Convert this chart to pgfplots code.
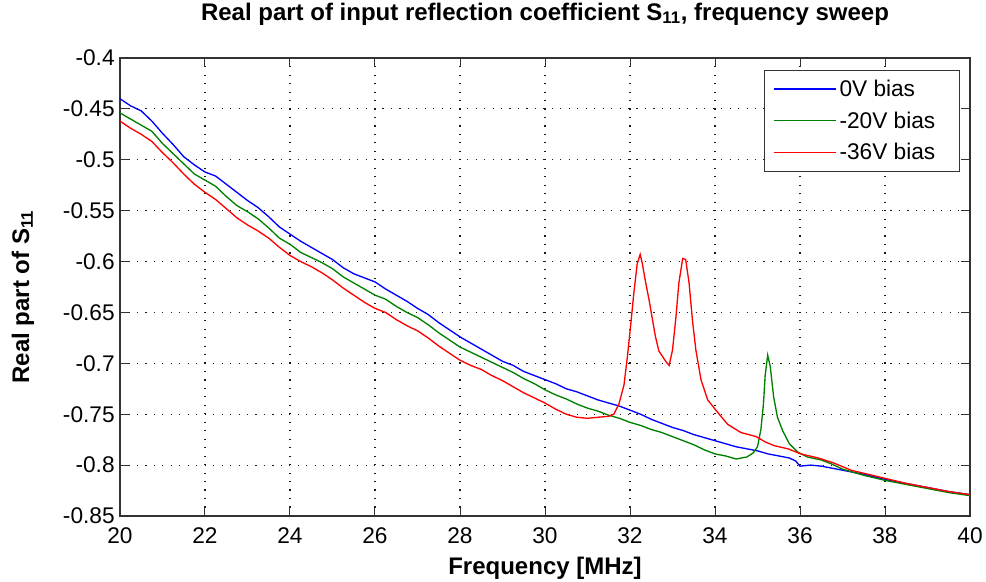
\documentclass[border=0pt]{standalone}
\usepackage{pgfplots}
\pgfplotsset{compat=1.18}
\usepackage{fontspec}
\setmainfont{Liberation Sans}
\definecolor{mblue}{rgb}{0,0,1}
\definecolor{mgreen}{rgb}{0,0.5,0}
\definecolor{mred}{rgb}{1,0,0}
\begin{document}
\begin{tikzpicture}
\useasboundingbox (-90pt,-49.5pt) rectangle (649.5pt,387pt);
\begin{axis}[
  at={(0,0)}, anchor=south west,
  scale only axis, width=637.5pt, height=343.5pt,
  xmin=20, xmax=40, ymin=-0.85, ymax=-0.4,
  xtick={20,22,24,26,28,30,32,34,36,38,40},
  xticklabels={20,22,24,26,28,30,32,34,36,38,40},
  ytick={-0.85,-0.8,-0.75,-0.7,-0.65,-0.6,-0.55,-0.5,-0.45,-0.4},
  yticklabels={-0.85,-0.8,-0.75,-0.7,-0.65,-0.6,-0.55,-0.5,-0.45,-0.4},
  /pgf/number format/assume math mode=true,
  tick label style={font=\fontsize{17}{20}\selectfont},
  xticklabel style={anchor=base, yshift=-20.5pt},
  yticklabel style={anchor=east, xshift=-0.5pt},
  tick align=inside, major tick length=6.5pt,
  every tick/.style={black!80, line width=0.75pt},
  xtick pos=both, ytick pos=both,
  axis line style={black!80, line width=1pt},
  grid=major,
  major grid style={black!90, line width=0.85pt, dash pattern=on 0.85pt off 5.5pt},
  title={\bfseries Real part of input reflection coefficient S\textsubscript{11}, frequency sweep},
  title style={font=\fontsize{18}{21}\selectfont, at={(0.5,1)}, anchor=base, yshift=22.5pt},
  xlabel={\bfseries Frequency [MHz]},
  xlabel style={font=\fontsize{18}{21}\selectfont, at={(0.5,0)}, anchor=base, yshift=-43.5pt},
  ylabel={\bfseries Real part of S\textsubscript{11}},
  ylabel style={font=\fontsize{18}{21}\selectfont, at={(-0.1141,0.478)}, anchor=center, rotate=0},
  legend style={at={(1,1)}, anchor=north east, xshift=-7.5pt, yshift=-9pt,
    draw=black!80, line width=0.75pt, font=\fontsize{17}{20}\selectfont,
    inner xsep=6pt, inner ysep=5pt, row sep=6pt, cells={anchor=west}},
  legend image code/.code={\draw[#1, line width=1pt] (0pt,0pt) -- (47pt,0pt);},
  legend cell align=left,
]
\addplot[mblue, line width=1pt] coordinates {
(20.0,-0.440) (20.25,-0.447) (20.5,-0.452) (20.75,-0.462) (21.0,-0.474) (21.25,-0.485)
(21.5,-0.497) (21.75,-0.505) (22.0,-0.512) (22.25,-0.516) (22.5,-0.524) (22.75,-0.532)
(23.0,-0.540) (23.25,-0.547) (23.5,-0.556) (23.75,-0.566) (24.0,-0.573) (24.25,-0.580)
(24.5,-0.586) (24.75,-0.592) (25.0,-0.598) (25.25,-0.606) (25.5,-0.612) (25.75,-0.616)
(26.0,-0.620) (26.25,-0.627) (26.5,-0.633) (26.75,-0.639) (27.0,-0.646) (27.25,-0.652)
(27.5,-0.660) (27.75,-0.667) (28.0,-0.674) (28.25,-0.680) (28.5,-0.686) (28.75,-0.692)
(29.0,-0.698) (29.25,-0.702) (29.5,-0.708) (29.75,-0.712) (30.0,-0.716) (30.25,-0.720)
(30.5,-0.725) (30.75,-0.728) (31.0,-0.732) (31.25,-0.736) (31.5,-0.739) (31.75,-0.742)
(32.0,-0.746) (32.25,-0.750) (32.5,-0.755) (32.75,-0.759) (33.0,-0.763) (33.25,-0.766)
(33.5,-0.770) (33.75,-0.773) (34.0,-0.776) (34.25,-0.779) (34.5,-0.782) (34.75,-0.784)
(35.0,-0.786) (35.25,-0.789) (35.5,-0.791) (35.75,-0.793) (35.9,-0.796) (36.0,-0.801)
(36.25,-0.800) (36.5,-0.801) (36.75,-0.803) (37.0,-0.805) (37.5,-0.809) (38.0,-0.814)
(38.5,-0.818) (39.0,-0.822) (39.5,-0.826) (40.0,-0.829)
};
\addlegendentry{\makebox[82pt][l]{0V bias}}
\addplot[mgreen, line width=1pt] coordinates {
(20.0,-0.454) (20.25,-0.460) (20.5,-0.466) (20.75,-0.472) (21.0,-0.484) (21.25,-0.494)
(21.5,-0.504) (21.75,-0.514) (22.0,-0.520) (22.25,-0.526) (22.5,-0.536) (22.75,-0.545)
(23.0,-0.551) (23.25,-0.558) (23.5,-0.567) (23.75,-0.577) (24.0,-0.583) (24.25,-0.591)
(24.5,-0.596) (24.75,-0.601) (25.0,-0.607) (25.25,-0.615) (25.5,-0.621) (25.75,-0.627)
(26.0,-0.633) (26.25,-0.637) (26.5,-0.644) (26.75,-0.650) (27.0,-0.655) (27.25,-0.662)
(27.5,-0.670) (27.75,-0.677) (28.0,-0.684) (28.25,-0.689) (28.5,-0.694) (28.75,-0.699)
(29.0,-0.704) (29.25,-0.709) (29.5,-0.715) (29.75,-0.720) (30.0,-0.726) (30.25,-0.731)
(30.5,-0.735) (30.75,-0.740) (31.0,-0.744) (31.25,-0.747) (31.5,-0.751) (31.75,-0.754)
(32.0,-0.758) (32.25,-0.761) (32.5,-0.765) (32.75,-0.768) (33.0,-0.772) (33.25,-0.776)
(33.5,-0.780) (33.75,-0.785) (34.0,-0.789) (34.25,-0.791) (34.5,-0.794) (34.75,-0.792)
(34.9,-0.788) (35.0,-0.782) (35.08,-0.765) (35.14,-0.740) (35.18,-0.712) (35.24,-0.692)
(35.3,-0.703) (35.38,-0.733) (35.47,-0.753) (35.59,-0.766) (35.75,-0.779) (35.94,-0.787)
(36.17,-0.792) (36.5,-0.795) (36.75,-0.799) (37.0,-0.804) (37.5,-0.810) (38.0,-0.815)
(38.5,-0.819) (39.0,-0.823) (39.5,-0.827) (40.0,-0.830)
};
\addlegendentry{\makebox[82pt][l]{-20V bias}}
\addplot[mred, line width=1pt] coordinates {
(20.0,-0.462) (20.25,-0.469) (20.5,-0.475) (20.75,-0.482) (21.0,-0.493) (21.25,-0.503)
(21.5,-0.514) (21.75,-0.524) (22.0,-0.532) (22.25,-0.539) (22.5,-0.548) (22.75,-0.557)
(23.0,-0.564) (23.25,-0.570) (23.5,-0.577) (23.75,-0.586) (24.0,-0.594) (24.25,-0.600)
(24.5,-0.605) (24.75,-0.611) (25.0,-0.618) (25.25,-0.626) (25.5,-0.633) (25.75,-0.640)
(26.0,-0.646) (26.25,-0.650) (26.5,-0.657) (26.75,-0.663) (27.0,-0.668) (27.25,-0.675)
(27.5,-0.683) (27.75,-0.690) (28.0,-0.697) (28.25,-0.702) (28.5,-0.706) (28.75,-0.712)
(29.0,-0.717) (29.25,-0.723) (29.5,-0.729) (29.75,-0.734) (30.0,-0.739) (30.25,-0.745)
(30.5,-0.750) (30.75,-0.753) (31.0,-0.754) (31.25,-0.753) (31.5,-0.752) (31.62,-0.750)
(31.74,-0.740) (31.86,-0.721) (31.94,-0.693) (32.02,-0.661) (32.09,-0.631) (32.17,-0.602)
(32.24,-0.593) (32.29,-0.602) (32.37,-0.621) (32.45,-0.638) (32.52,-0.655) (32.6,-0.674)
(32.68,-0.688) (32.76,-0.693) (32.84,-0.698) (32.92,-0.702) (33.0,-0.687) (33.08,-0.655)
(33.15,-0.621) (33.24,-0.597) (33.31,-0.598) (33.39,-0.621) (33.47,-0.658) (33.55,-0.687)
(33.67,-0.716) (33.83,-0.736) (34.02,-0.746) (34.3,-0.760) (34.61,-0.768) (34.97,-0.772)
(35.17,-0.777) (35.4,-0.781) (35.72,-0.784) (36.02,-0.789) (36.43,-0.793) (36.8,-0.798)
(37.2,-0.805) (37.6,-0.809) (38.0,-0.813) (38.5,-0.818) (39.0,-0.822) (39.5,-0.826)
(40.0,-0.829)
};
\addlegendentry{\makebox[82pt][l]{-36V bias}}
\end{axis}
\end{tikzpicture}
\end{document}
